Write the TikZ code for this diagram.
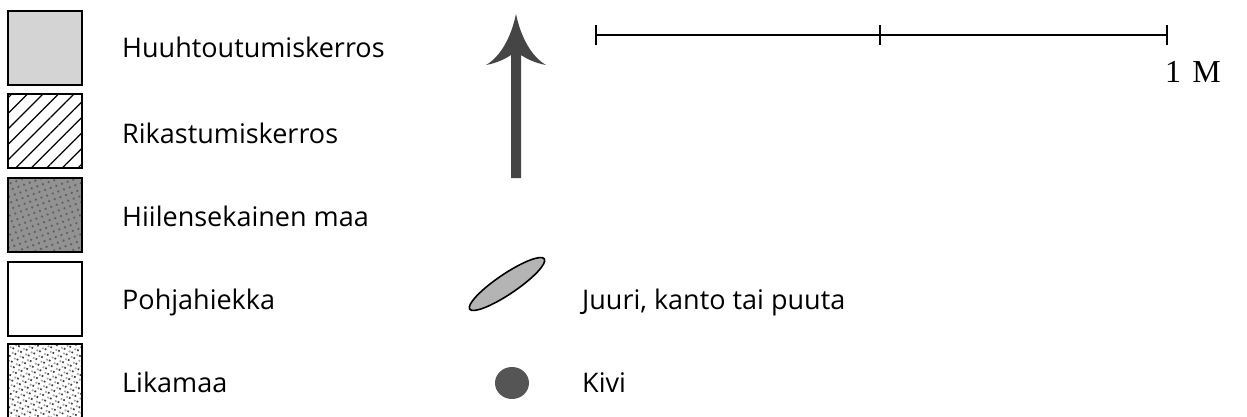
\documentclass[tikz,border=0pt]{standalone}
\usepackage{fontspec}
\setmainfont{Open Sans}
\newfontfamily\scalefont{Liberation Serif}
\usepackage{tikz}
\usetikzlibrary{positioning, patterns.meta}
\definecolor{lightsoil}{HTML}{D4D4D4}
\definecolor{darksoil}{HTML}{929292}
\definecolor{arrowgray}{HTML}{454545}
\definecolor{rootgray}{HTML}{B4B4B4}
\definecolor{stonegray}{HTML}{555555}
\tikzset{
    swatch/.style={rectangle, draw, line width=1.8pt, minimum width=74pt, minimum height=74pt, inner sep=0pt},
    legendtext/.style={anchor=base west, inner sep=0pt, font=\fontsize{27}{32}\selectfont},
    scaleline/.style={line width=2.2pt}
}

\begin{document}
\begin{tikzpicture}[x=1pt, y=-1pt]
            \useasboundingbox (0,0) rectangle (1247,417);

            % Legend swatches
            \node (huuhto) [swatch, fill=lightsoil] at (45,48) {};
            \node (rikast) [swatch, pattern={Lines[angle=45, distance=11pt, line width=1.2pt]}] at (45,131) {};
            \node (hiili) [swatch, fill=darksoil] at (45,215) {};
            \node [swatch, pattern={Dots[distance=6pt, radius=1.3pt, angle=20]}, pattern color=black!62] at (hiili) {};
            \node (pohja) [swatch, fill=white] at (45,299) {};
            \node (lika) [swatch, fill=white, pattern={Dots[distance=6pt, radius=1.2pt, angle=20]}, pattern color=black!75] at (45,381) {};
            \node [swatch, pattern={Dots[distance=6pt, radius=1.2pt, angle=20, xshift=3pt, yshift=3pt]}, pattern color=black!35] at (lika) {};

            \node (thuuhto) [legendtext] at (122,58) {Huuhtoutumiskerros};
            \node (trikast) [legendtext] at (122,143) {Rikastumiskerros};
            \node (thiili) [legendtext] at (122,226) {Hiilensekainen maa};
            \node (tpohja) [legendtext] at (122,309) {Pohjahiekka};
            \node (tlika) [legendtext] at (122,392) {Likamaa};

            % North arrow
            \fill [arrowgray] (516,14) .. controls (511,38) and (500,57) .. (486,65)
                .. controls (497,63) and (505,59) .. (511,55) -- (511,178) -- (521,178) -- (521,55)
                .. controls (527,59) and (535,63) .. (546,65)
                .. controls (532,57) and (521,38) .. (516,14) -- cycle;

            % Scale bar
            \coordinate (s0) at (596,35);
            \coordinate (s1) at (880,35);
            \coordinate (s2) at (1167,35);
            \draw [scaleline] (s0) -- (s2);
            \foreach \t in {s0,s1,s2}
                \draw [scaleline] ([yshift=10pt]\t) -- ([yshift=-10pt]\t);
            \node (metri) [anchor=base west, inner sep=0pt, font=\scalefont\fontsize{32}{36}\selectfont] at (1165,83) {1\hspace{0.35em}M};

            % Root and stone symbols
            \draw [line width=1.6pt, fill=rootgray, rotate around={34:(507,284)}] (507,284) ellipse [x radius=45pt, y radius=10pt];
            \fill [stonegray] (512,383) ellipse [x radius=17pt, y radius=16pt];

            \node (tjuuri) [legendtext] at (582,309) {Juuri, kanto tai puuta};
            \node (tkivi) [legendtext] at (582,392) {Kivi};
\end{tikzpicture}
\end{document}
